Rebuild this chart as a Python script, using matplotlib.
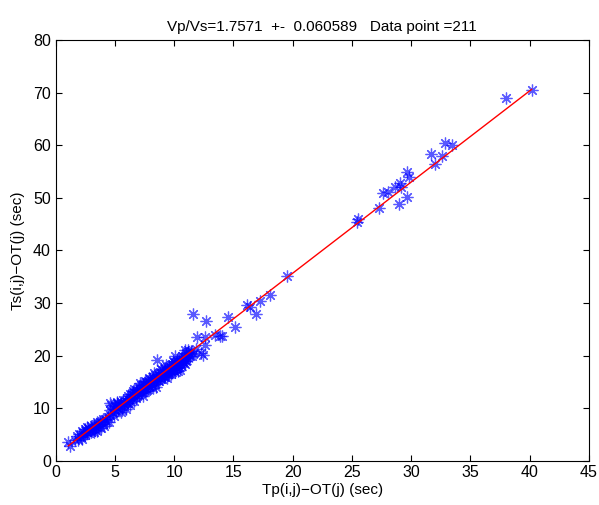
import matplotlib
matplotlib.use("Agg")
import matplotlib.pyplot as plt

plt.rcParams['font.family'] = ['Liberation Sans', 'DejaVu Sans']

# dense band of travel times (sec)
tp_band = [1.6, 1.8, 1.9, 2.0, 2.1, 2.2, 2.3, 2.4, 2.5, 2.5, 2.6, 2.7, 2.8, 2.9, 3.0, 3.0,
           3.1, 3.2, 3.3, 3.4, 3.4, 3.5, 3.6, 3.7, 3.8, 3.9, 4.0, 4.1, 4.2, 4.3, 4.4, 4.5,
           4.6, 4.7, 4.8, 4.9, 5.0, 5.1, 5.2, 5.3, 5.4, 5.5, 5.5, 5.6, 5.7, 5.8, 5.9, 6.0,
           6.0, 6.1, 6.2, 6.3, 6.3, 6.4, 6.5, 6.5, 6.6, 6.7, 6.8, 6.8, 6.9, 7.0, 7.0, 7.1,
           7.2, 7.2, 7.3, 7.4, 7.4, 7.5, 7.6, 7.6, 7.7, 7.8, 7.8, 7.9, 8.0, 8.0, 8.1, 8.2,
           8.2, 8.3, 8.4, 8.4, 8.5, 8.5, 8.6,
           8.7, 8.8, 8.8, 8.9, 9.0, 9.0, 9.1, 9.2, 9.2, 9.3, 9.4, 9.4, 9.5, 9.5, 9.6, 9.6,
           9.7, 9.8, 9.8, 9.9, 10.0, 10.0, 10.1, 10.1, 10.2, 10.2, 10.3, 10.4, 10.4, 10.5,
           10.5, 10.6, 10.6, 10.7, 10.8, 10.8, 10.9, 11.0, 11.0, 11.1, 11.2, 11.3, 11.4,
           11.6, 11.8,
           2.2, 2.6, 3.2, 3.5, 4.0, 4.6, 4.9, 5.3, 5.6, 5.9, 6.1, 6.4, 6.6, 6.9, 7.1, 7.3,
           7.5, 7.7, 7.9, 8.1, 8.3, 8.6, 8.9, 9.1, 9.3, 9.7, 9.9, 10.3, 10.7, 11.0, 11.2,
           11.5, 10.9, 9.4]
ts_band = [4.0, 4.6, 3.9, 5.1, 4.4, 5.6, 4.8, 5.3, 6.0, 4.9, 5.5, 6.2, 5.2, 5.9, 6.6, 5.5,
           6.1, 6.8, 5.9, 7.0, 6.3, 5.6, 6.9, 7.3, 6.2, 7.6, 7.0, 6.5, 7.9, 7.4, 8.2, 7.3,
           8.6, 10.6, 9.1, 8.5, 10.3, 9.4, 11.0, 9.9, 10.6, 9.3, 11.2, 10.4, 11.6, 10.8, 9.9, 11.9,
           11.0, 12.3, 11.5, 10.6, 12.7, 11.9, 12.4, 13.2, 11.3, 12.8, 13.5, 12.0, 13.0, 14.0, 12.4, 13.4,
           14.3, 12.8, 13.7, 14.6, 12.2, 13.9, 14.9, 13.2, 14.3, 15.2, 13.6, 14.7, 15.6, 14.0, 15.0, 16.0,
           13.8, 15.4, 16.2, 14.5, 15.7, 14.0, 16.5,
           15.2, 16.8, 15.6, 16.1, 17.2, 15.5, 16.6, 17.5, 16.0, 16.9, 17.8, 15.8, 17.2, 16.4, 18.0, 16.7,
           17.5, 18.3, 16.9, 17.8, 18.7, 17.2, 18.1, 16.8, 19.0, 17.6, 18.4, 19.2, 17.8, 18.7,
           17.3, 19.5, 18.2, 19.0, 18.5, 19.8, 19.3, 20.4, 18.9, 19.7, 20.6, 19.9, 20.9,
           20.3, 21.2,
           4.2, 6.3, 5.4, 7.4, 8.0, 9.7, 9.8, 10.8, 9.6, 11.3, 10.9, 12.6, 13.6, 12.2, 14.7, 13.1,
           15.2, 13.5, 15.8, 14.3, 16.6, 15.3, 17.4, 15.9, 18.1, 16.4, 19.0, 17.0, 20.0, 19.5, 21.1,
           20.0, 18.3, 17.0]

# scattered points away from the band
tp_far = [40.17, 37.97, 33.47, 32.83, 32.57, 31.67, 32.0, 29.67, 29.79, 29.05, 29.14, 28.63,
          28.07, 27.65, 29.67, 28.94, 27.28, 25.54, 25.45,
          19.49, 18.08, 17.24, 16.9, 16.12, 16.4, 14.57, 15.13, 11.61, 12.68, 13.44, 13.87,
          11.9, 12.6, 12.6, 12.46, 8.55, 10.9, 10.07, 14.0, 12.3,
          4.58, 5.15, 3.6, 1.06, 1.2]
ts_far = [70.5, 69.1, 60.1, 60.4, 58.0, 58.4, 56.5, 54.9, 54.0, 52.9, 52.1, 52.1,
          51.2, 51.0, 50.1, 48.8, 48.1, 45.9, 45.5,
          35.1, 31.5, 30.3, 28.0, 29.6, 29.3, 27.4, 25.5, 27.9, 26.6, 24.0, 23.7,
          23.6, 23.5, 22.0, 20.1, 19.2, 21.0, 20.0, 23.8, 20.5,
          10.9, 11.2, 6.5, 3.6, 2.7]

# least-squares line end points
fit_tp = [1.06, 40.17]
fit_ts = [2.8, 70.67]

title = "Vp/Vs=1.7571  +-  0.060589   Data point =211"

fig = plt.figure(figsize=(5.99, 5.05), dpi=100)
ax = fig.add_axes([0.093, 0.088, 0.890, 0.832])

star = (8, 2, 0)
ax.plot(tp_band + tp_far, ts_band + ts_far, ls="none", marker=star, ms=8.5,
        mec="blue", mew=0.9, alpha=0.65)
ax.plot(fit_tp, fit_ts, color="red", lw=1.0)

ax.set_xlim(0, 45)
ax.set_ylim(0, 80)
ax.set_xticks(range(0, 46, 5))
ax.set_yticks(range(0, 81, 10))
ax.tick_params(direction="in", top=True, right=True, labelsize=11.5, length=4)
ax.set_xlabel("Tp(i,j)\u2212OT(j) (sec)", fontsize=11, labelpad=2)
ax.set_ylabel("Ts(i,j)\u2212OT(j) (sec)", fontsize=11, labelpad=6)
ax.set_title(title, fontsize=11, pad=7)

fig.savefig("out.png", dpi=100)
